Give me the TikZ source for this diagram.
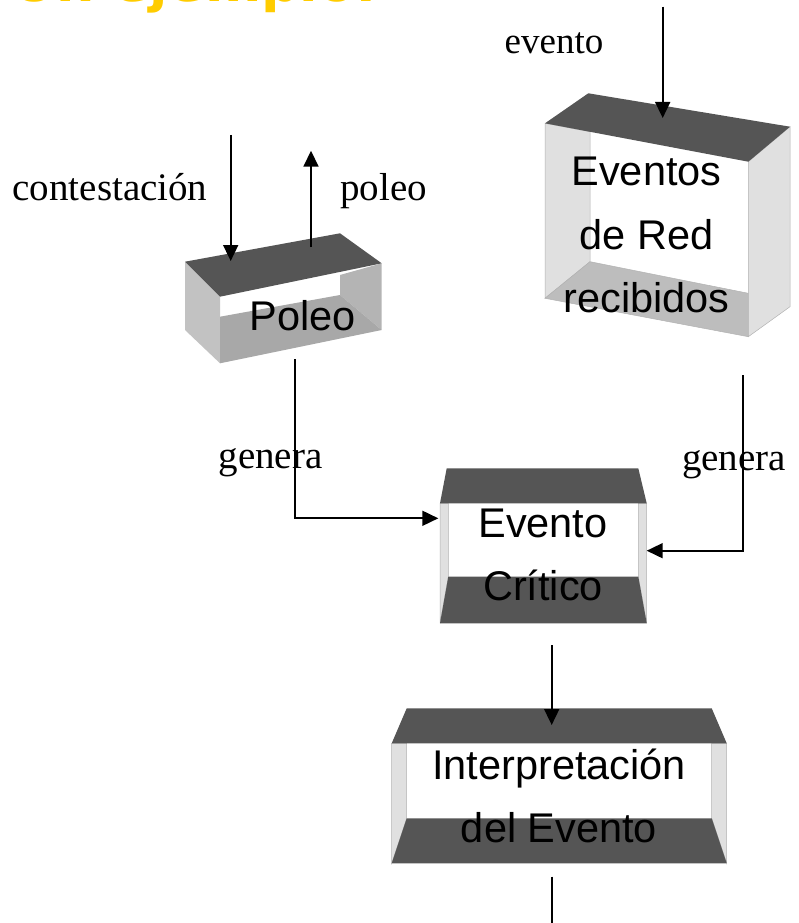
\documentclass[tikz,border=0pt]{standalone}
\usepackage{fontspec}
\setmainfont{Liberation Serif}
\setsansfont{Liberation Sans}
\newfontfamily\titlefont{DejaVu Sans}
\usetikzlibrary{arrows.meta, positioning}
\definecolor{cface}{HTML}{555555}
\definecolor{cside}{HTML}{E0E0E0}
\definecolor{cwall}{HTML}{C2C2C2}
\definecolor{cinner}{HTML}{B4B4B4}
\definecolor{cfloor}{HTML}{A8A8A8}
\definecolor{cfloorb}{HTML}{BDBDBD}
\definecolor{ctitle}{HTML}{FFCC00}

\begin{document}
\begin{tikzpicture}[x=1pt, y=-1pt,
  top/.style={fill=cface},
  side/.style={fill=cside, draw=gray!60, line width=0.5pt},
  wall/.style={fill=cwall},
  floor/.style={fill=cfloor},
  lbl/.style={font=\fontsize{39}{47}\selectfont, inner sep=0pt, anchor=base},
  boxtxt/.style={font=\sffamily\fontsize{41.5}{63.3}\selectfont, align=center,
                 inner sep=0pt, anchor=north},
  arr/.style={-{Triangle[length=16pt,width=15pt]}, line width=1.7pt}
]
\useasboundingbox (0,0) rectangle (798,923);

% title, cut at the top edge
\node[font=\titlefont\bfseries\fontsize{54}{60}\selectfont, text=ctitle,
      inner sep=0pt, anchor=base west] (title) at (12,2) {Un ejemplo:};

% Poleo box
\fill[wall]  (185,261.7) -- (220,296.7) -- (220,363.3) -- (185,330) -- cycle;
\fill[fill=cinner] (340,275) -- (381.7,263.3) -- (381.7,330) -- (340,295) -- cycle;
\fill[floor] (220,316.7) -- (340,295) -- (381.7,330) -- (220,363.3) -- cycle;
\fill[top]   (185,261.7) -- (340,233.3) -- (381.7,263.3) -- (220,296.7) -- cycle;
\node[boxtxt, anchor=base] (poleo) at (302.5,330) {Poleo};

% Eventos de Red box
\filldraw[side] (545,123.3) -- (590,131.7) -- (590,261.7) -- (545,298.3) -- cycle;
\filldraw[side, fill=cfloorb]
  (590,261.7) -- (748.3,293.3) -- (748.3,336.7) -- (545,298.3) -- cycle;
\filldraw[side] (748.3,161.7) -- (790,126.7) -- (790,306.7) -- (748.3,336.7) -- cycle;
\fill[top] (545,123.3) -- (588.3,93.3) -- (790,126.7) -- (748.3,161.7) -- cycle;
\node[boxtxt] (red) at (646.5,157) {Eventos\\de Red\\recibidos};

% Evento Critico box
\filldraw[side] (440,503.3) -- (448.3,503.3) -- (448.3,576.7) -- (440,623.3) -- cycle;
\filldraw[side] (638.3,503.3) -- (646.7,503.3) -- (646.7,623.3) -- (638.3,576.7) -- cycle;
\fill[top] (446.7,468.3) -- (638.3,468.3) -- (646.7,503.3) -- (440,503.3) -- cycle;
\fill[top] (448.3,576.7) -- (638.3,576.7) -- (646.7,623.3) -- (440,623.3) -- cycle;
\node[boxtxt] (critico) at (543,508.5) {Evento\\Crítico};

% Interpretacion box
\filldraw[side] (391.7,743.3) -- (406.7,743.3) -- (406.7,818.3) -- (391.7,863.3) -- cycle;
\filldraw[side] (711.7,743.3) -- (726.7,743.3) -- (726.7,863.3) -- (711.7,818.3) -- cycle;
\fill[top] (406.7,708.3) -- (711.7,708.3) -- (726.7,743.3) -- (391.7,743.3) -- cycle;
\fill[top] (406.7,818.3) -- (711.7,818.3) -- (726.7,863.3) -- (391.7,863.3) -- cycle;
\node[boxtxt] (interp) at (559,748.5) {Interpretación\\del Evento};

% labels
\node[lbl] (lcont)  at (110,200)   {contestación};
\node[lbl] (lpoleo) at (383.5,200) {poleo};
\node[lbl, font=\fontsize{37}{44}\selectfont] (levento) at (554,53.3) {evento};
\node[lbl] (lgen1)  at (270.5,468) {genera};
\node[lbl] (lgen2)  at (734,470)   {genera};

% connector ends
\coordinate (contA)  at (230.7,135);
\coordinate (contB)  at (230.7,261);
\coordinate (polA)   at (311,247);
\coordinate (polB)   at (311,150.7);
\coordinate (evA)    at (662.7,6.7);
\coordinate (evB)    at (662.7,118);
\coordinate (genA)   at (295,359.3);
\coordinate (critW)  at (438.3,518.3);
\coordinate (genB)   at (743.3,375);
\coordinate (critE)  at (646.7,550.7);
\coordinate (critS)  at (551.7,645);
\coordinate (interpN) at (551.7,725);
\coordinate (interpS) at (551.7,876.7);
\coordinate (outS)   at (551.7,923);

\draw[arr] (contA) -- (contB);
\draw[arr] (polA) -- (polB);
\draw[arr] (evA) -- (evB);
\draw[arr] (genA) |- (critW);
\draw[arr] (genB) |- (critE);
\draw[arr] (critS) -- (interpN);
\draw[line width=1.7pt] (interpS) -- (outS);
\end{tikzpicture}
\end{document}
